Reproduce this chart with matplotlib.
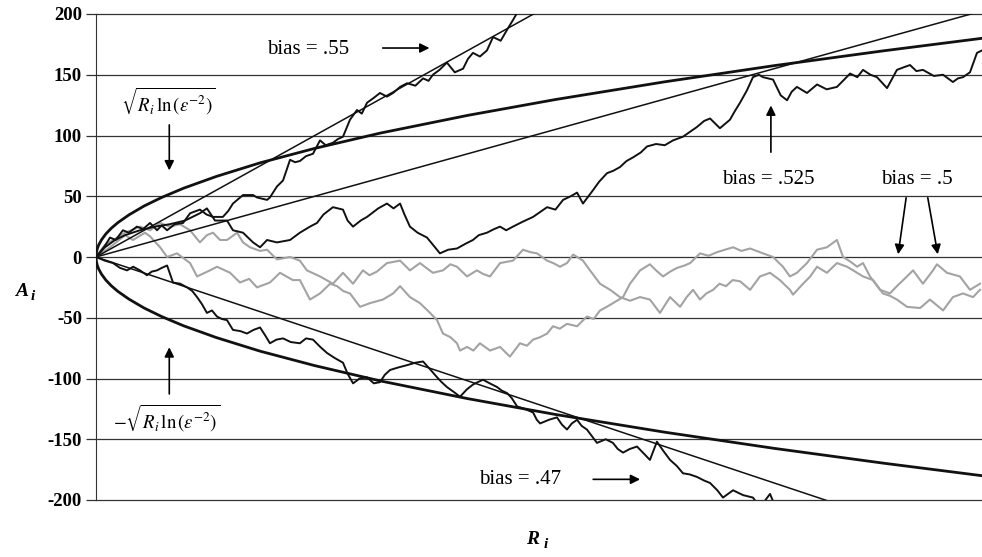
import numpy as np
import matplotlib
matplotlib.use("Agg")
import matplotlib.pyplot as plt

plt.rcParams['font.family'] = ['Liberation Serif', 'DejaVu Serif']
plt.rcParams['mathtext.fontset'] = 'stix'

# bias = .55 walk (R, A)
r55 = [0, 18, 40, 64, 90, 123, 150, 187, 215, 247, 279, 300, 325, 360, 398, 430, 475, 505, 535,
       580, 605, 626, 672, 718, 736, 782, 795, 827, 855, 887, 910, 932, 960, 992, 1024, 1050,
       1083, 1105, 1129, 1161, 1193, 1215, 1239, 1270, 1298, 1330, 1358, 1390, 1422, 1460, 1495,
       1520, 1540, 1570, 1604, 1640, 1678, 1700, 1723, 1755, 1787, 1815, 1850, 1879, 1906, 1925]
a55 = [0, 4, 9, 16, 14, 22, 20, 25, 23, 28, 22, 26, 22, 27, 28, 36, 39, 35, 33,
       33, 38, 44, 51, 51, 49, 47, 49, 58, 63, 80, 78, 79, 83, 85, 96, 92,
       94, 97, 99, 113, 121, 118, 127, 131, 135, 132, 135, 140, 143, 141, 147,
       145, 150, 154, 160, 152, 155, 163, 168, 165, 170, 181, 178, 187, 195, 201]

# bias = .525 walk
r525 = [0, 41, 87, 133, 201, 270, 338, 407, 475, 507, 544, 599, 626, 672, 718, 750, 782, 827, 887,
        932, 978, 1010, 1040, 1083, 1129, 1150, 1175, 1210, 1239, 1290, 1330, 1360, 1390, 1410,
        1435, 1470, 1513, 1545, 1572, 1610, 1650, 1690, 1723, 1750, 1787, 1820, 1847, 1875, 1906,
        1950, 1998, 2030, 2062, 2100, 2135, 2170, 2199, 2226, 2272, 2300, 2336, 2365, 2395, 2425,
        2455, 2490, 2519, 2560, 2600, 2638, 2683, 2715, 2747, 2780, 2807, 2852, 2898, 2920, 2944,
        2975, 3003, 3030, 3049, 3095, 3130, 3159, 3180, 3204, 3250, 3296, 3340, 3387, 3420, 3447,
        3480, 3506, 3540, 3570, 3616, 3640, 3661, 3690, 3721, 3750, 3780, 3830, 3872, 3917, 3940,
        3963, 3995, 4027, 4050]
a525 = [0, 8, 14, 18, 22, 25, 27, 30, 36, 40, 30, 30, 22, 20, 12, 8, 14, 12, 14,
        20, 25, 28, 35, 41, 39, 30, 25, 30, 33, 40, 44, 40, 44, 35,
        25, 20, 16, 9, 3, 6, 7, 11, 14, 18, 20, 23, 25, 22, 25,
        29, 33, 37, 41, 39, 47, 50, 53, 44, 55, 62, 69, 71, 74, 79,
        82, 86, 91, 93, 92, 96, 99, 103, 107, 112, 114, 106, 113, 120, 127,
        137, 148, 150, 148, 146, 133, 129, 136, 140, 135, 142, 138, 140, 146, 151,
        148, 154, 150, 148, 139, 147, 154, 156, 158, 153, 154, 149, 150, 144, 147,
        148, 152, 168, 170]

# bias = .47 walk
r47 = [0, 40, 78, 110, 142, 170, 201, 233, 255, 279, 300, 325, 352, 385, 416, 440, 462, 485, 507,
       530, 553, 575, 599, 626, 660, 690, 720, 750, 775, 795, 825, 855, 890, 932, 960, 992, 1025,
       1056, 1090, 1129, 1150, 1175, 1205, 1239, 1270, 1298, 1320, 1344, 1380, 1422, 1460, 1495,
       1530, 1559, 1580, 1604, 1635, 1664, 1695, 1723, 1745, 1769, 1800, 1833, 1855, 1879, 1900,
       1925, 1960, 1998, 2015, 2030, 2070, 2107, 2130, 2153, 2175, 2199, 2220, 2244, 2265, 2290,
       2330, 2363, 2385, 2409, 2440, 2473, 2500, 2532, 2564, 2595, 2624, 2655, 2683, 2715, 2747,
       2780, 2807, 2840, 2866, 2912, 2958, 3003, 3035, 3081, 3104, 3150]
a47 = [0, -3, -5, -9, -11, -8, -11, -15, -12, -11, -9, -7, -21, -22, -25, -28, -33, -39, -46,
       -44, -49, -51, -52, -60, -61, -63, -60, -58, -65, -71, -68, -67, -70, -71, -67, -68, -74,
       -79, -83, -87, -96, -104, -100, -99, -104, -103, -97, -93, -91, -89, -87, -86,
       -93, -99, -103, -107, -111, -115, -109, -105, -103, -101, -104, -107, -110, -112, -116,
       -123, -125, -128, -134, -137, -134, -132, -138, -142, -137, -134, -139, -142, -147, -153,
       -150, -153, -158, -161, -158, -156, -161, -167, -152, -160, -167, -172, -178, -179, -181,
       -184, -186, -192, -198, -192, -196, -198, -206, -195, -205, -215]

# two unbiased walks (bias = .5)
r50a = [0, 64, 133, 169, 224, 247, 293, 325, 370, 430, 462, 521, 553, 613, 658, 700, 736, 795, 841,
        900, 932, 978, 1024, 1070, 1102, 1130, 1161, 1207, 1252, 1312, 1358, 1390, 1435, 1481,
        1527, 1559, 1586, 1620, 1650, 1664, 1696, 1725, 1755, 1801, 1847, 1892, 1938, 1970, 1998,
        2030, 2062, 2089, 2120, 2153, 2199, 2244, 2275, 2304, 2335, 2363, 2409, 2441, 2487, 2532,
        2560, 2592, 2625, 2656, 2690, 2716, 2761, 2800, 2839, 2875, 2912, 2950, 2990, 3049, 3095,
        3140, 3172, 3204, 3250, 3296, 3341, 3387, 3415, 3450, 3479, 3506, 3538, 3584, 3629, 3661,
        3707, 3735, 3780, 3826, 3844, 3890, 3949, 3995, 4041]
a50a = [0, 8, 18, 14, 20, 17, 8, 0, 3, -5, -16, -11, -8, -13, -21, -18, -25, -21, -13,
        -19, -19, -35, -30, -22, -24, -28, -30, -41, -38, -35, -30, -24, -33, -38,
        -46, -52, -63, -66, -71, -77, -74, -77, -71, -77, -74, -82, -71, -73, -68,
        -66, -63, -57, -59, -55, -57, -49, -51, -44, -41, -38, -33, -22, -11, -6,
        -11, -16, -12, -9, -7, -5, 3, 1, 4, 6, 8, 5, 7, 3, 0,
        -8, -16, -13, -5, 6, 8, 14, 0, -4, -8, -5, -16, -27, -30, -24,
        -16, -11, -22, -11, -6, -13, -16, -27, -22]

r50b = [0, 41, 87, 133, 201, 247, 293, 338, 384, 430, 475, 507, 535, 567, 599, 645, 672, 704, 750,
        782, 827, 887, 932, 964, 1024, 1083, 1129, 1175, 1220, 1250, 1284, 1330, 1390, 1435, 1481,
        1510, 1540, 1586, 1620, 1650, 1696, 1741, 1770, 1801, 1847, 1906, 1952, 1985, 2016, 2062,
        2090, 2121, 2153, 2181, 2226, 2258, 2304, 2350, 2395, 2441, 2487, 2532, 2578, 2624, 2670,
        2700, 2729, 2761, 2790, 2821, 2850, 2880, 2910, 2944, 2990, 3035, 3081, 3126, 3172, 3186,
        3232, 3265, 3296, 3341, 3387, 3433, 3470, 3506, 3552, 3597, 3630, 3661, 3707, 3767, 3812,
        3872, 3917, 3963, 4009, 4041]
a50b = [0, 10, 15, 20, 25, 22, 28, 25, 27, 22, 12, 18, 20, 14, 14, 20, 12, 8, 5,
        6, -2, 0, -3, -11, -16, -22, -13, -22, -11, -15, -12, -5, -3, -11, -5,
        -9, -13, -11, -6, -8, -16, -11, -14, -16, -5, -3, 6, 4, 3, -3,
        -5, -8, -5, 2, -3, -11, -22, -27, -33, -36, -33, -35, -46, -33, -41,
        -33, -27, -35, -30, -27, -22, -24, -19, -20, -27, -16, -13, -19, -27, -31,
        -22, -16, -8, -13, -5, -8, -12, -16, -19, -30, -32, -35, -41, -42, -35,
        -44, -33, -30, -33, -27]

# expected drift lines for each bias
drift_r = [0, 4050]
drift_55 = [0, 405]
drift_525 = [0, 202.5]
drift_47 = [0, -243]

# envelope sqrt(R ln(eps^-2))
env_r = [0, 2, 6, 12, 25, 45, 70, 100, 150, 220, 300, 400, 550, 750, 1000, 1300, 1700,
         2100, 2600, 3100, 3600, 4050]
env_a = [0, 4.0, 6.9, 9.8, 14.1, 19.0, 23.7, 28.3, 34.6, 42.0, 49.0, 56.6, 66.3, 77.5, 89.4,
         102.0, 116.6, 129.6, 144.2, 157.5, 169.7, 180.0]

yticks = [-200, -150, -100, -50, 0, 50, 100, 150, 200]

fig = plt.figure(figsize=(9.82, 5.57), dpi=100)
ax = fig.add_axes([96 / 982, 1 - 500 / 557, 1 - 96 / 982, (500 - 14) / 557])
ax.set_xlim(0, 4050)
ax.set_ylim(-200, 200)

for y in yticks:
    ax.axhline(y, color='#333333', lw=0.9, zorder=1, clip_on=False)

gray = '#a3a3a3'
ax.plot(r50a, a50a, color=gray, lw=1.5, zorder=2)
ax.plot(r50b, a50b, color=gray, lw=1.5, zorder=2)
ax.plot(r55, a55, color='#111111', lw=1.4, zorder=3)
ax.plot(r525, a525, color='#111111', lw=1.4, zorder=3)
ax.plot(r47, a47, color='#111111', lw=1.4, zorder=3)

for d in (drift_55, drift_525, drift_47):
    ax.plot(drift_r, d, color='#111111', lw=1.1, zorder=4)
ax.plot(env_r, env_a, color='#111111', lw=2.0, zorder=4)
ax.plot(env_r, [-v for v in env_a], color='#111111', lw=2.0, zorder=4)

for s in ('top', 'right', 'bottom'):
    ax.spines[s].set_visible(False)
ax.spines['left'].set_color('#333333')
ax.set_xticks([])
ax.set_yticks(yticks)
ax.set_yticklabels([str(t) for t in yticks], fontweight='bold', fontsize=13.5)
ax.tick_params(axis='y', length=7, width=0.9, color='#333333', pad=3)

# axis labels
fig.text(22 / 982, 1 - 292 / 557, 'A', fontsize=14, fontweight='bold', style='italic',
         ha='center', va='center')
fig.text(33 / 982, 1 - 297 / 557, 'i', fontsize=11, fontweight='bold', style='italic',
         ha='center', va='center')
fig.text(533 / 982, 1 - 540 / 557, 'R', fontsize=14, fontweight='bold', style='italic',
         ha='center', va='center')
fig.text(546 / 982, 1 - 545 / 557, 'i', fontsize=11, fontweight='bold', style='italic',
         ha='center', va='center')

arrow = dict(arrowstyle='-|>', color='black', lw=1.2, mutation_scale=14)

ax.text(782, 171, 'bias = .55', fontsize=15, ha='left', va='center')
ax.annotate('', xy=(1537, 172), xytext=(1298, 172), arrowprops=arrow)

ax.text(2860, 64, 'bias = .525', fontsize=15, ha='left', va='center')
ax.annotate('', xy=(3085, 127), xytext=(3085, 84), arrowprops=arrow)

ax.text(3590, 64, 'bias = .5', fontsize=15, ha='left', va='center')
ax.annotate('', xy=(3665, 0), xytext=(3705, 51), arrowprops=arrow)
ax.annotate('', xy=(3850, 0), xytext=(3800, 51), arrowprops=arrow)

ax.text(1750, -183, 'bias = .47', fontsize=15, ha='left', va='center')
ax.annotate('', xy=(2500, -183), xytext=(2260, -183), arrowprops=arrow)

ax.text(330, 128, r'$\sqrt{R_i\,\ln\left(\varepsilon^{-2}\right)}$', fontsize=13.5,
        ha='center', va='center')
ax.annotate('', xy=(335, 69), xytext=(335, 111), arrowprops=arrow)

ax.text(322, -133, r'$-\sqrt{R_i\,\ln\left(\varepsilon^{-2}\right)}$', fontsize=13.5,
        ha='center', va='center')
ax.annotate('', xy=(335, -72), xytext=(335, -115), arrowprops=arrow)

fig.savefig('out.png', dpi=100)
